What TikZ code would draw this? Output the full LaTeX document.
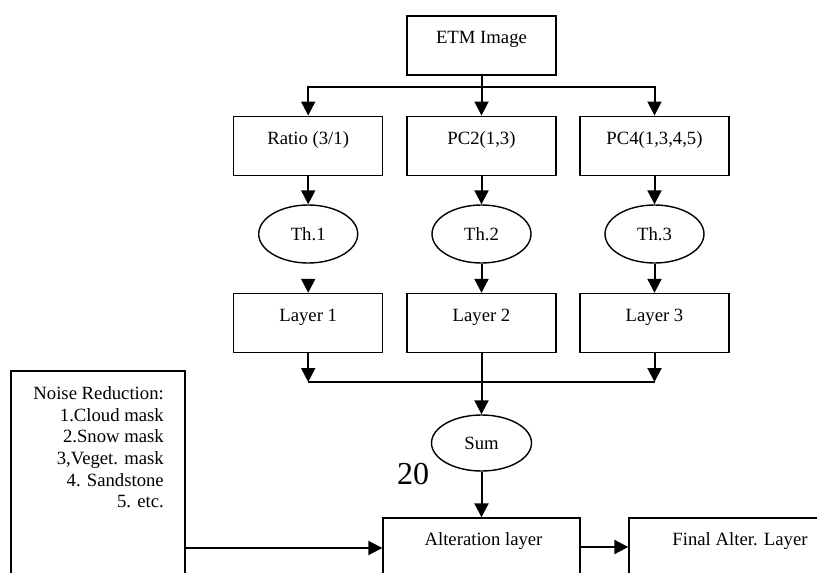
\documentclass[tikz,border=0pt]{standalone}
\usepackage{fontspec}
\setmainfont{Liberation Serif}
\usetikzlibrary{arrows.meta,shapes.geometric,calc}
\newcommand\dfs{\fontsize{18.7}{21.6}\selectfont}
\begin{document}
\begin{tikzpicture}[x=1pt,y=-1pt,
  box/.style={draw,line width=1.4pt,rectangle,minimum width=149pt,minimum height=59pt,inner sep=0},
  ell/.style={draw,line width=1.4pt,ellipse,minimum width=99pt,minimum height=58pt,inner sep=0,font=\dfs},
  lbl/.style={anchor=base,inner sep=0,font=\dfs},
  arr/.style={line width=2pt,-{Triangle[width=14pt,length=14pt]}},
  ln/.style={line width=2pt}]
\path[use as bounding box] (0,0) rectangle (817,573);
\clip (0,0) rectangle (817,573);
% boxes
\node[box] (etm) at (481.5,45.5) {};
\node[box] (ratio) at (308.2,145.7) {};
\node[box] (pc2) at (481.5,145.7) {};
\node[box] (pc4) at (654.5,145.7) {};
\node[ell] (th1) at (308.2,234) {Th.1};
\node[ell] (th2) at (481.5,234) {Th.2};
\node[ell] (th3) at (654.5,234) {Th.3};
\node[box] (layer1) at (308.2,323) {};
\node[box] (layer2) at (481.5,323) {};
\node[box] (layer3) at (654.5,323) {};
\node[ell,minimum width=100pt,minimum height=56pt] (sum) at (481.5,443) {Sum};
\node[box,minimum width=197pt,minimum height=100pt] (alt) at (481.5,568) {};
\node[box,minimum width=222pt,minimum height=100pt] (final) at (740,568) {};
\node[box,minimum width=174pt,minimum height=300pt] (noise) at (98,521) {};
% labels
\node[lbl] (etmT) at ($(etm.north)+(0,28.5)$) {ETM Image};
\node[lbl] (ratioT) at ($(ratio.north)+(0,28.5)$) {Ratio (3/1)};
\node[lbl] (pc2T) at ($(pc2.north)+(0,28.5)$) {PC2(1,3)};
\node[lbl] (pc4T) at ($(pc4.north)+(0,28.5)$) {PC4(1,3,4,5)};
\node[lbl] (l1T) at ($(layer1.north)+(0,28.5)$) {Layer 1};
\node[lbl] (l2T) at ($(layer2.north)+(0,28.5)$) {Layer 2};
\node[lbl] (l3T) at ($(layer3.north)+(0,28.5)$) {Layer 3};
\node[lbl] (altT) at ($(alt.north)+(2,28.5)$) {Alteration layer};
\node[lbl] (finalT) at ($(final.north)+(0,28.5)$) {Final Alter. Layer};
\node[anchor=north east,inner sep=0,align=right,font=\dfs] (noiseT) at (164,386.5)
  {Noise Reduction:\\1.Cloud mask\\2.Snow mask\\3,Veget. mask\\4. Sandstone\hspace*{0.25em}\\5. etc.};
\node[anchor=base west,inner sep=0,font=\fontsize{32}{36}\selectfont] (num) at (397,484) {20};
% connectors
\coordinate (b0) at ($(etm.south)+(0,11.2)$);
\draw[ln] (etm.south) -- (b0);
\draw[arr] (b0) -- (pc2.north);
\draw[arr] (b0) -| (ratio.north);
\draw[arr] (b0) -| (pc4.north);
\draw[arr] (ratio.south) -- (th1.north);
\draw[arr] (pc2.south) -- (th2.north);
\draw[arr] (pc4.south) -- (th3.north);
\coordinate (t1) at ($(layer1.north)+(0,-14)$);
\draw[arr] (t1) -- (layer1.north);
\draw[arr] (th2.south) -- (layer2.north);
\draw[arr] (th3.south) -- (layer3.north);
\coordinate (m1) at (308.2,382);
\coordinate (m3) at (654.5,382);
\draw[arr] (layer1.south) -- (m1);
\draw[arr] (layer3.south) -- (m3);
\draw[ln] (m1) -- (m3);
\draw[arr] (layer2.south) -- (sum.north);
\draw[arr] (sum.south) -- (alt.north);
\coordinate (y548) at (0,548);
\coordinate (y547) at (0,547);
\draw[arr] (noise.east |- y548) -- (alt.west |- y548);
\draw[arr] (alt.east |- y547) -- (final.west |- y547);
\end{tikzpicture}
\end{document}
